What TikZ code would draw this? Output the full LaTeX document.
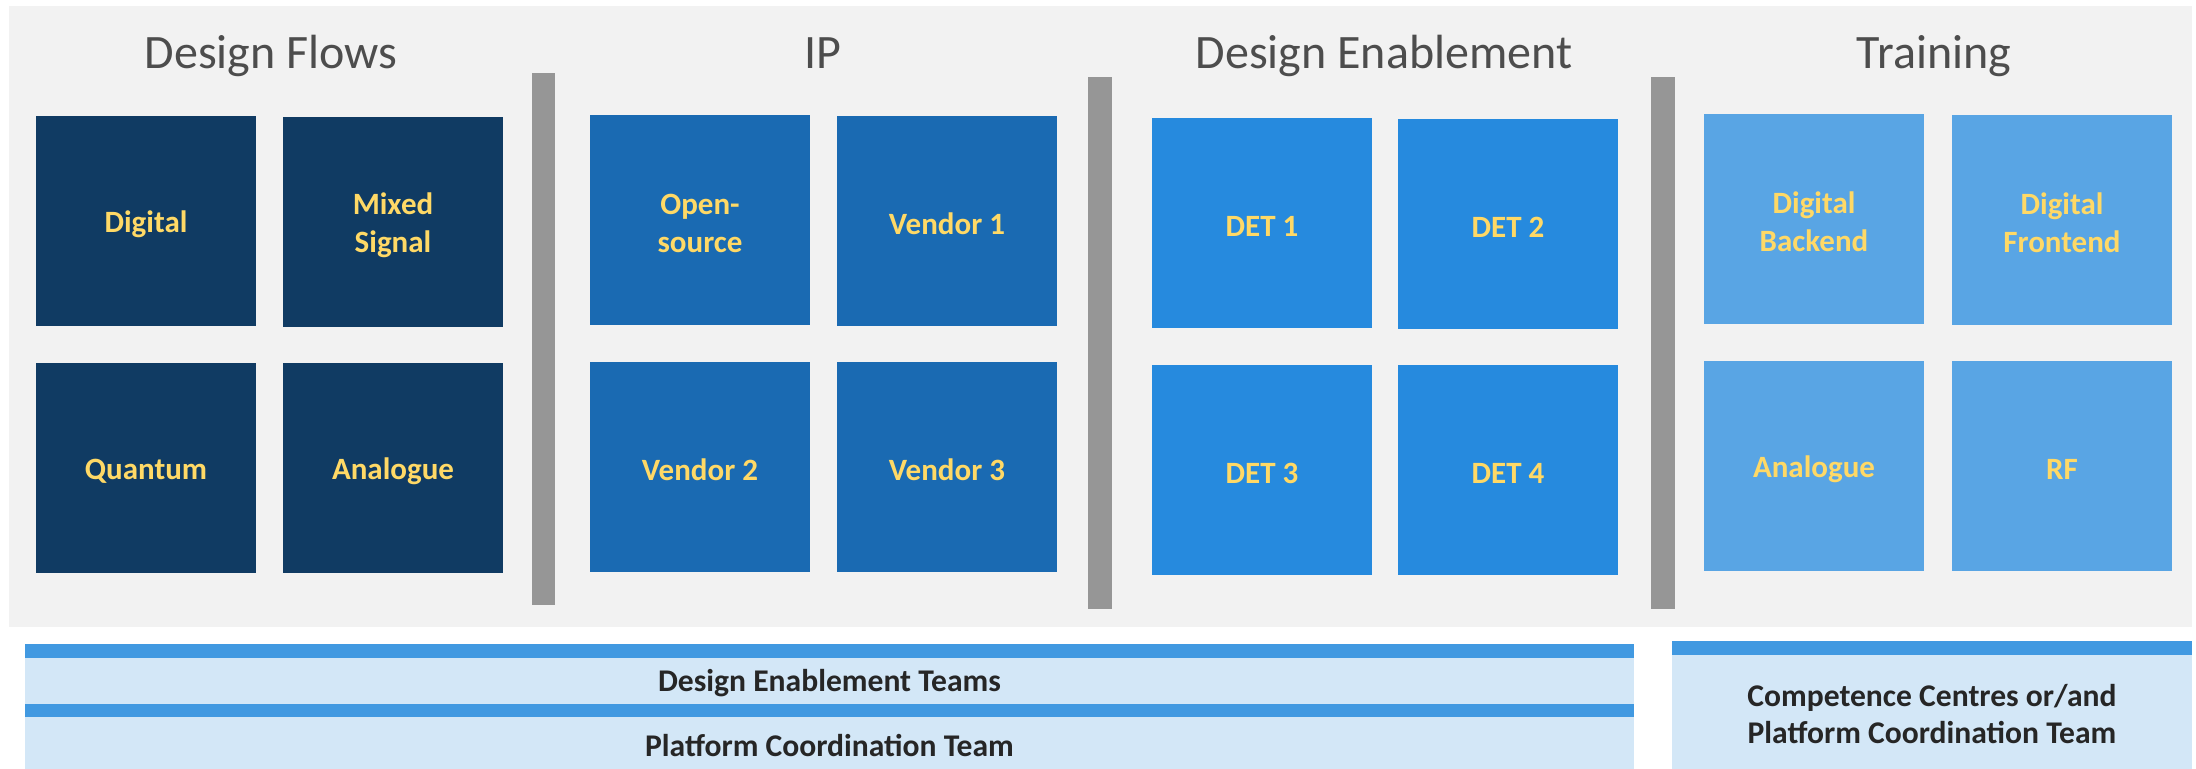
\documentclass[tikz,border=0pt]{standalone}
\usepackage{fontspec}
\setmainfont{Carlito}
\definecolor{bgc}{RGB}{242,242,242}
\definecolor{dfc}{RGB}{16,59,99}
\definecolor{ipc}{RGB}{26,106,178}
\definecolor{dec}{RGB}{38,138,222}
\definecolor{trc}{RGB}{89,165,228}
\definecolor{sepc}{RGB}{150,150,150}
\definecolor{stripec}{RGB}{65,153,225}
\definecolor{bandc}{RGB}{211,231,247}
\definecolor{yel}{RGB}{255,217,102}
\definecolor{ttl}{RGB}{77,77,77}
\definecolor{txtc}{RGB}{38,38,38}
\begin{document}
\begin{tikzpicture}[x=0.5pt,y=-0.5pt,
  tile/.style={minimum width=110pt,minimum height=105pt,inner sep=0pt},
  tilelabel/.style={inner sep=0pt,align=center,yshift=-1.5pt,
    text=yel,font=\bfseries\fontsize{15.5}{19}\selectfont},
  sectitle/.style={anchor=base,text=ttl,inner sep=0pt,font=\fontsize{24}{28}\selectfont},
  bandbox/.style={fill=bandc,inner sep=0pt},
  bandlabel/.style={inner sep=0pt,align=center,text=txtc,yshift=-1.2pt,
    font=\bfseries\fontsize{15.8}{18.5}\selectfont}]
\useasboundingbox (0,0) rectangle (2196,769);
\fill[bgc] (9,6) rectangle (2192,627);
% titles
\node[sectitle] (tdf) at (271,69) {Design Flows};
\node[sectitle] (tip) at (823,69) {IP};
\node[sectitle] (tde) at (1384,69) {Design Enablement};
\node[sectitle] (ttr) at (1934,69) {Training};
% separators
\fill[sepc] (532,73) rectangle (555,605);
\fill[sepc] (1088,77) rectangle (1112,609);
\fill[sepc] (1651,77) rectangle (1675,609);
% Design flows
\node[tile,fill=dfc] (dig) at (146,221) {};
\node[tilelabel] (digl) at (dig.center) {Digital};
\node[tile,fill=dfc] (mix) at (393,222) {};
\node[tilelabel] (mixl) at (mix.center) {Mixed\\Signal};
\node[tile,fill=dfc] (qua) at (146,468) {};
\node[tilelabel] (qual) at (qua.center) {Quantum};
\node[tile,fill=dfc] (ana) at (393,468) {};
\node[tilelabel] (anal) at (ana.center) {Analogue};
% IP
\node[tile,fill=ipc] (ops) at (700,220) {};
\node[tilelabel] (opsl) at (ops.center) {Open-\\source};
\node[tile,fill=ipc] (v1) at (947,221) {};
\node[tilelabel] (v1l) at (v1.center) {Vendor 1};
\node[tile,fill=ipc] (v2) at (700,467) {};
\node[tilelabel] (v2l) at (v2.center) {Vendor 2};
\node[tile,fill=ipc] (v3) at (947,467) {};
\node[tilelabel] (v3l) at (v3.center) {Vendor 3};
% Design enablement
\node[tile,fill=dec] (d1) at (1262,223) {};
\node[tilelabel] (d1l) at (d1.center) {DET 1};
\node[tile,fill=dec] (d2) at (1508,224) {};
\node[tilelabel] (d2l) at (d2.center) {DET 2};
\node[tile,fill=dec] (d3) at (1262,470) {};
\node[tilelabel] (d3l) at (d3.center) {DET 3};
\node[tile,fill=dec] (d4) at (1508,470) {};
\node[tilelabel] (d4l) at (d4.center) {DET 4};
% Training
\node[tile,fill=trc] (tdb) at (1814,219) {};
\node[tilelabel] (tdbl) at (tdb.center) {Digital\\Backend};
\node[tile,fill=trc] (tdfe) at (2062,220) {};
\node[tilelabel] (tdfel) at (tdfe.center) {Digital\\Frontend};
\node[tile,fill=trc] (tan) at (1814,466) {};
\node[tilelabel] (tanl) at (tan.center) {Analogue};
\node[tile,fill=trc] (trf) at (2062,466) {};
\node[tilelabel] (trfl) at (trf.center) {RF};
% bottom bands
\fill[stripec] (25,644) rectangle (1634,658);
\node[bandbox,minimum width=804.5pt,minimum height=23pt] (det) at (829.5,681) {};
\node[bandlabel] (detl) at (det.center) {Design Enablement Teams};
\fill[stripec] (25,704) rectangle (1634,717);
\node[bandbox,minimum width=804.5pt,minimum height=26pt] (pct) at (829.5,743) {};
\node[bandlabel] (pctl) at (pct.center) {Platform Coordination Team};
\fill[stripec] (1672,641) rectangle (2192,655);
\node[bandbox,minimum width=260pt,minimum height=57pt] (cc) at (1932,712) {};
\node[bandlabel] (ccl) at (cc.center) {Competence Centres or/and\\Platform Coordination Team};
\end{tikzpicture}
\end{document}
